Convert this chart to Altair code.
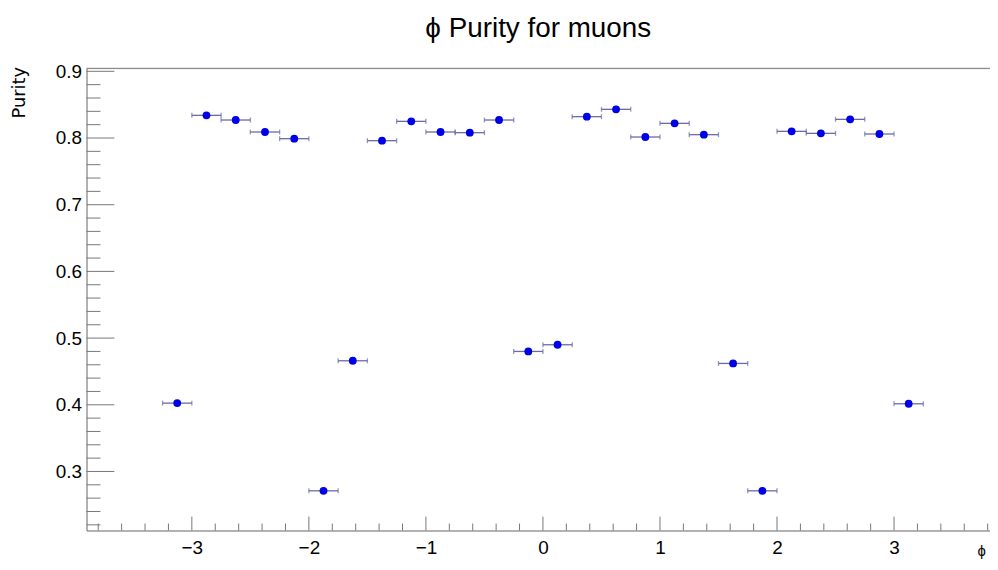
import altair as alt
import pandas as pd
import numpy as np

# Data
phi_centers = [-3.125, -2.875, -2.625, -2.375, -2.125, -1.875, -1.625, -1.375, -1.125,
               -0.875, -0.625, -0.375, -0.125, 0.125, 0.375, 0.625, 0.875, 1.125,
               1.375, 1.625, 1.875, 2.125, 2.375, 2.625, 2.875, 3.125]
purity = [0.4025, 0.834, 0.827, 0.809, 0.799, 0.271, 0.466, 0.796, 0.825,
          0.809, 0.808, 0.827, 0.480, 0.490, 0.832, 0.843, 0.8015, 0.822,
          0.805, 0.462, 0.271, 0.810, 0.807, 0.828, 0.806, 0.4015]
half_width = 0.125

x_labels = [-3, -2, -1, 0, 1, 2, 3]
y_labels = [0.3, 0.4, 0.5, 0.6, 0.7, 0.8, 0.9]
x_minor = [round(v, 2) for v in np.arange(-3.8, 3.81, 0.2) if abs(v - round(v)) > 1e-6]
y_minor = [round(v, 2) for v in np.arange(0.22, 0.901, 0.02) if abs(v * 10 - round(v * 10)) > 1e-6]

W, H = 909, 465
xdom = [-3.90, 3.82]
ydom = [0.2115, 0.9045]
frame = "#777777"

df = pd.DataFrame({"phi": phi_centers, "purity": purity})
df["lo"] = df["phi"] - half_width
df["hi"] = df["phi"] + half_width

xs = alt.Scale(domain=xdom, nice=False, zero=False)
ys = alt.Scale(domain=ydom, nice=False, zero=False)

xaxis = alt.Axis(values=x_labels, ticks=False, grid=False, domainColor=frame,
                 labelFontSize=19, labelColor="black", labelPadding=8,
                 labelFont="Liberation Sans", format="d",
                 title="ϕ", titleFontSize=15, titleFontWeight="normal",
                 titleX=896, titleY=13, titleAlign="left", titleBaseline="top")
yaxis = alt.Axis(values=y_labels, ticks=False, grid=False, domainColor=frame,
                 labelFontSize=19, labelColor="black", labelPadding=5,
                 labelFont="Liberation Sans", format=".1f",
                 title="Purity", titleFontSize=18, titleFontWeight="normal",
                 titleFont="DejaVu Sans", titleX=-62, titleY=-2,
                 titleAngle=-90, titleAlign="right", titleBaseline="alphabetic")

base = alt.Chart(df)
ecol = "#6a6aa6"
bars = base.mark_rule(color=ecol, strokeWidth=1.3).encode(
    x=alt.X("lo:Q", scale=xs, axis=xaxis),
    x2="hi:Q",
    y=alt.Y("purity:Q", scale=ys, axis=yaxis),
)
caps_lo = base.mark_tick(orient="vertical", size=5, thickness=1.3, color=ecol).encode(
    x=alt.X("lo:Q", scale=xs), y=alt.Y("purity:Q", scale=ys))
caps_hi = base.mark_tick(orient="vertical", size=5, thickness=1.3, color=ecol).encode(
    x=alt.X("hi:Q", scale=xs), y=alt.Y("purity:Q", scale=ys))
points = base.mark_circle(size=62, color="#0000e6", opacity=1).encode(
    x=alt.X("phi:Q", scale=xs), y=alt.Y("purity:Q", scale=ys))

xmaj = alt.Chart(pd.DataFrame({"t": x_labels})).mark_rule(color=frame).encode(
    x=alt.X("t:Q", scale=xs), y=alt.value(H), y2=alt.value(H - 14))
xmin = alt.Chart(pd.DataFrame({"t": x_minor})).mark_rule(color=frame).encode(
    x=alt.X("t:Q", scale=xs), y=alt.value(H), y2=alt.value(H - 7))
ymaj = alt.Chart(pd.DataFrame({"t": y_labels})).mark_rule(color=frame).encode(
    y=alt.Y("t:Q", scale=ys), x=alt.value(0), x2=alt.value(28))
ymin = alt.Chart(pd.DataFrame({"t": y_minor})).mark_rule(color=frame).encode(
    y=alt.Y("t:Q", scale=ys), x=alt.value(0), x2=alt.value(14))
top = alt.Chart(pd.DataFrame({"t": [0]})).mark_rule(color=frame).encode(
    y=alt.value(0), x=alt.value(0), x2=alt.value(W + 5))

chart = alt.layer(xmin, xmaj, ymin, ymaj, top, bars, caps_lo, caps_hi, points).properties(
    width=W, height=H,
    title=alt.TitleParams("ϕ Purity for muons", fontSize=28, fontWeight="normal",
                          font="Liberation Sans", color="black", anchor="middle",
                          dx=0, offset=20),
    autosize=alt.AutoSizeParams(type="none"),
    padding={"left": 79, "top": 59, "right": 0, "bottom": 30},
).configure_view(stroke=None).configure(background="white")

chart.save("out.html", embed_options={"renderer": "svg", "actions": False})
